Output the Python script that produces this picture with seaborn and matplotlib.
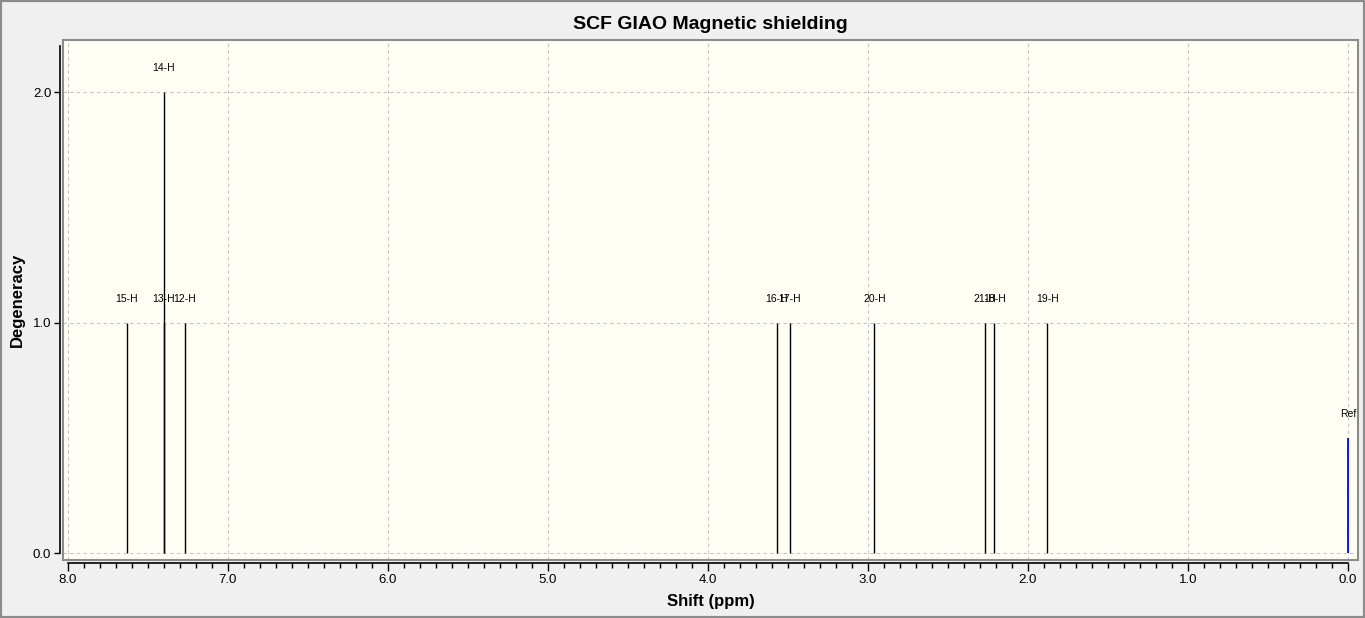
import numpy as np
import seaborn as sns
import matplotlib.pyplot as plt
from matplotlib.patches import Rectangle
from matplotlib.ticker import MultipleLocator

# peaks
labels = ["15-H", "14-H", "13-H", "12-H", "16-H", "17-H", "20-H", "21-H", "18-H", "19-H"]
shifts = [7.63, 7.40, 7.40, 7.27, 3.57, 3.49, 2.96, 2.27, 2.21, 1.88]
degeneracy = [1, 2, 1, 1, 1, 1, 1, 1, 1, 1]
ref_shift = [0.0]
ref_height = [0.5]

sns.set_style("white")
plt.rcParams['font.family'] = ['Liberation Sans', 'DejaVu Sans']
plt.rcParams['text.color'] = 'black'
plt.rcParams['axes.labelcolor'] = 'black'
plt.rcParams['xtick.color'] = 'black'
plt.rcParams['ytick.color'] = 'black'

W, H = 1365, 618
fig = plt.figure(figsize=(W / 100, H / 100), dpi=100, facecolor='#f0f0f0')
fig.patches.append(Rectangle((0, 0), 1, 1, transform=fig.transFigure, fill=False,
                             edgecolor='#8c8c8c', linewidth=3))

left, right, top, bottom = 63, 1358, 40, 560
ax = fig.add_axes([left / W, 1 - bottom / H, (right - left) / W, (bottom - top) / H])
ax.set_facecolor('#fffff6')

ax.vlines(shifts, 0, degeneracy, color='black', linewidth=1.0)
ax.vlines(ref_shift, 0, ref_height, color='#0000ff', linewidth=1.3)

for lab, x, h in zip(labels, shifts, degeneracy):
    ax.annotate(lab, (x, h), xytext=(0, 17), textcoords='offset points',
                ha='center', va='center', fontsize=7.5, color='black')
ax.annotate("Ref", (ref_shift[0], ref_height[0]), xytext=(0, 17), textcoords='offset points',
            ha='center', va='center', fontsize=7.5, color='black')

ax.set_xlim(8.03, -0.0625)
ax.set_ylim(-0.03, 2.226)

ax.xaxis.set_major_locator(MultipleLocator(1.0))
ax.xaxis.set_minor_locator(MultipleLocator(0.1))
ax.set_yticks([0, 1, 2])
ax.xaxis.set_major_formatter(plt.FuncFormatter(lambda v, p: f"{v:.1f}"))
ax.yaxis.set_major_formatter(plt.FuncFormatter(lambda v, p: f"{v:.1f}"))

ax.grid(True, which='major', linestyle=(0, (3, 3)), color='#c4c4c4', linewidth=0.8)
ax.set_axisbelow(True)

# grey frame around the plotting area
ax.add_patch(Rectangle((0, 0), 1, 1, transform=ax.transAxes, fill=False,
                       edgecolor='#8c8c8c', linewidth=1.5, clip_on=False, zorder=5))

for s in ['top', 'right']:
    ax.spines[s].set_visible(False)
ax.spines['left'].set_position(('outward', 2.2))
ax.spines['bottom'].set_position(('outward', 2.5))
ax.spines['left'].set_bounds(0, 2.2)
ax.spines['bottom'].set_bounds(0, 8)
for s in ['left', 'bottom']:
    ax.spines[s].set_color('black')
    ax.spines[s].set_linewidth(1.2)

ax.tick_params(axis='x', which='major', direction='out', length=5.5, width=1, pad=2,
               labelsize=9.5, bottom=True)
ax.tick_params(axis='x', which='minor', direction='out', length=3.6, width=1, bottom=True)
ax.tick_params(axis='y', which='major', direction='out', length=4.3, width=1, pad=2,
               labelsize=9.5, left=True)

ax.set_title("SCF GIAO Magnetic shielding", fontsize=14, fontweight='bold', pad=8)
ax.set_xlabel("Shift (ppm)", fontsize=12, fontweight='bold')
ax.set_ylabel("Degeneracy", fontsize=12, fontweight='bold')
ax.xaxis.set_label_coords(0.5, (bottom - 594) / (bottom - top))
ax.yaxis.set_label_coords((25 - left) / (right - left), 0.5)

fig.savefig("out.png", dpi=100, facecolor=fig.get_facecolor())
